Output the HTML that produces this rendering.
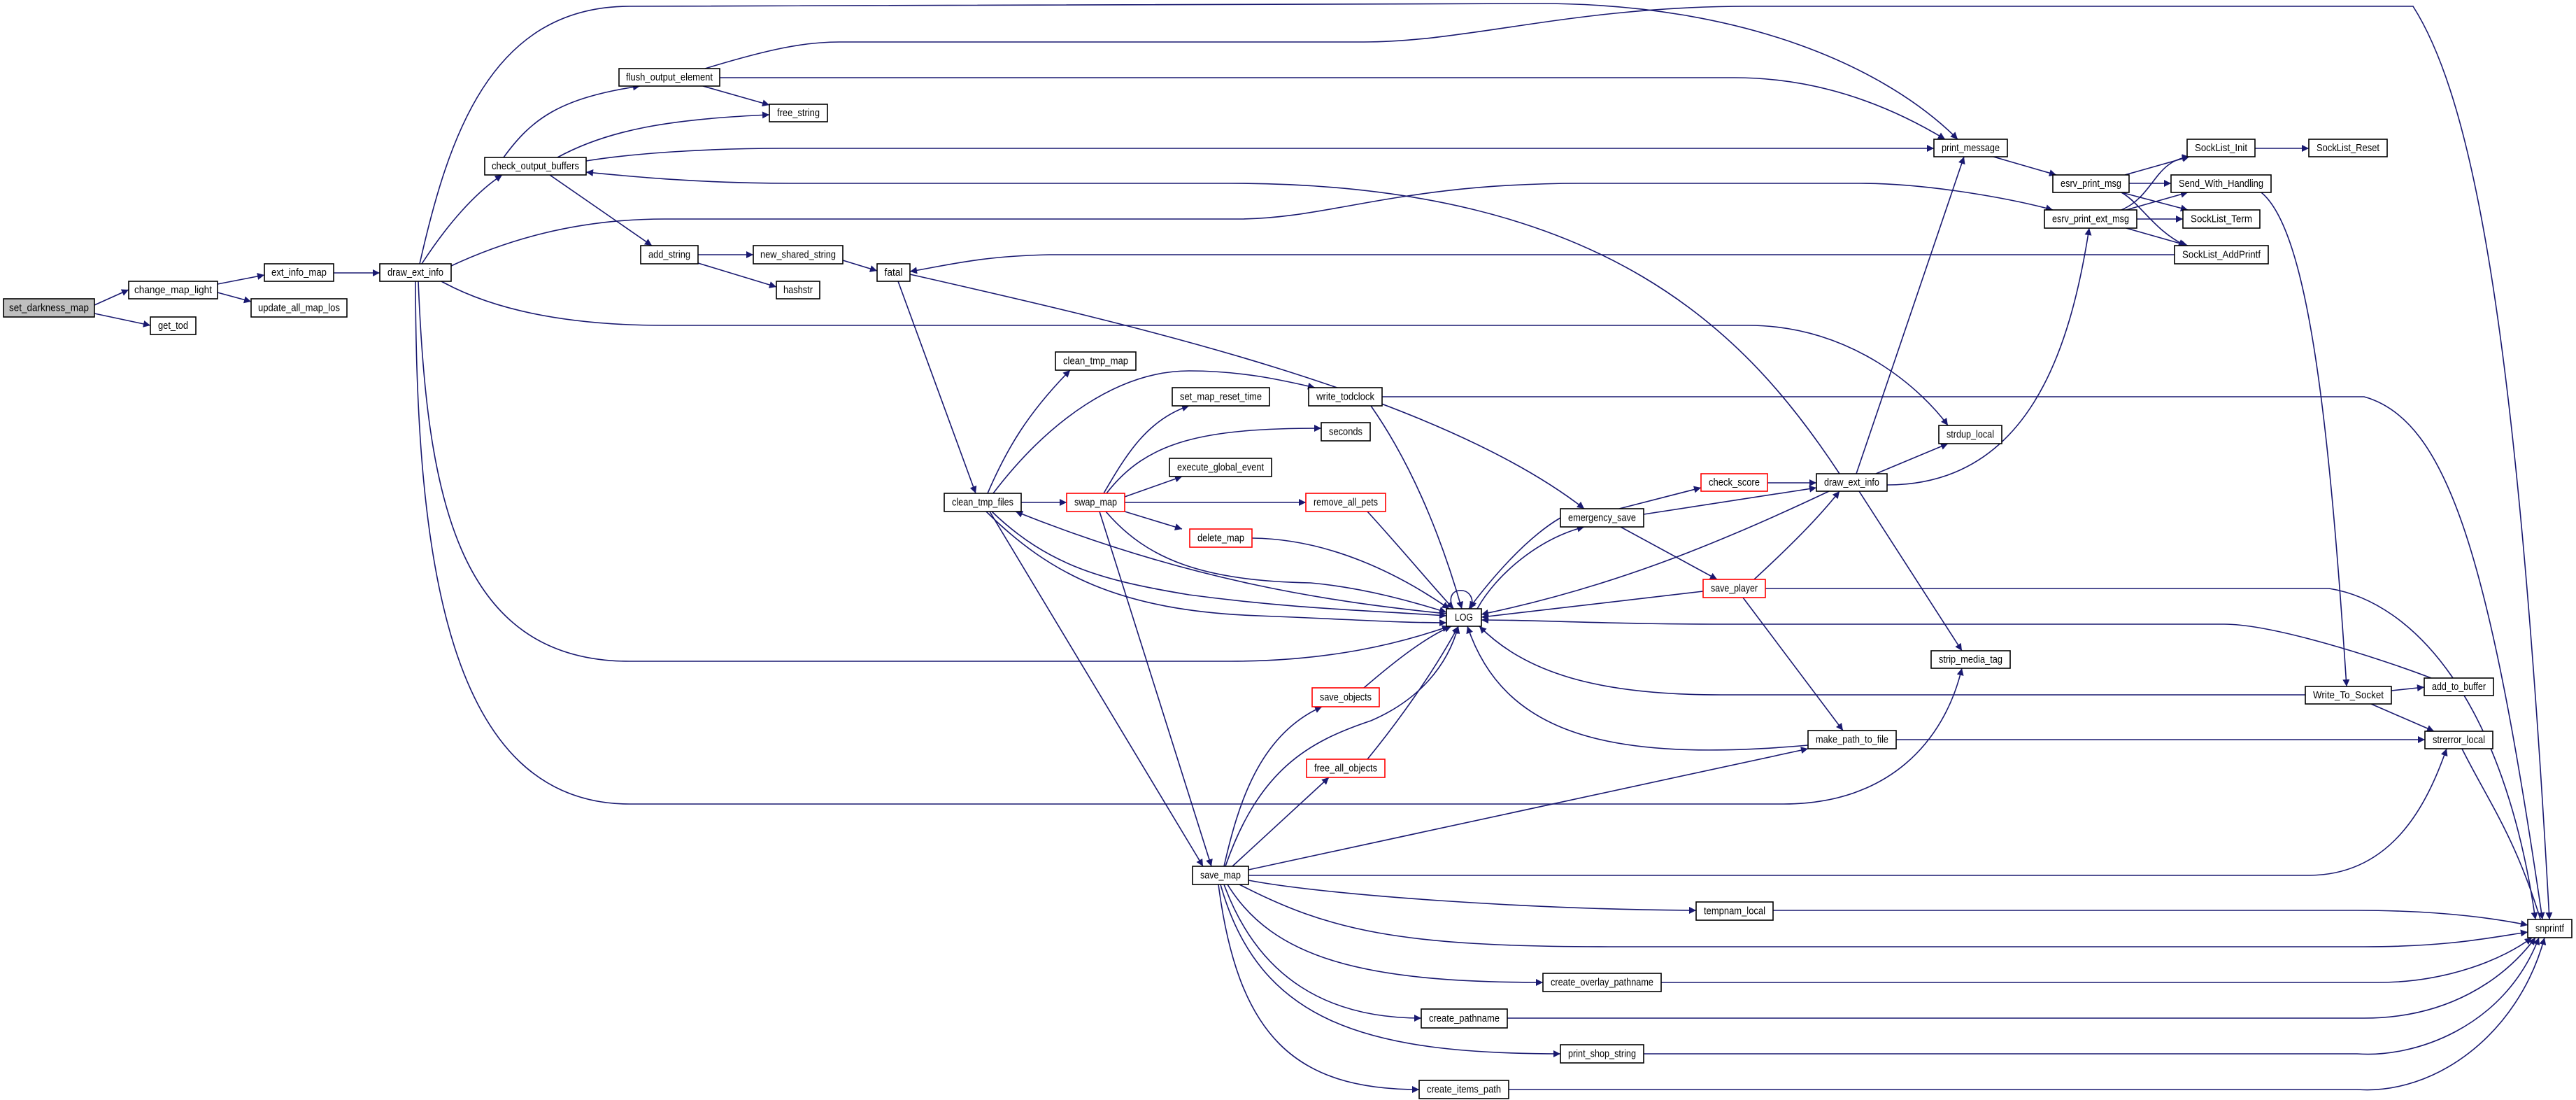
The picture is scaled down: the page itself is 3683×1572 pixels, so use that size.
<!DOCTYPE html>
<html><head><meta charset="utf-8"><style>
html,body{margin:0;padding:0;background:#fff;}
svg{display:block;}
.e{fill:none;stroke:#191970;stroke-width:1.6;marker-end:url(#ar);}
.n rect{fill:#fff;stroke:#000;stroke-width:1.6;}
.n.r rect{stroke:#ff0000;}
.n.g rect{fill:#bfbfbf;}
text{font-family:"Liberation Sans",sans-serif;font-size:15px;fill:#000;text-anchor:middle;dominant-baseline:central;}
</style></head><body>
<svg width="3683" height="1572" viewBox="0 0 3683 1572" xmlns="http://www.w3.org/2000/svg">
<defs><marker id="ar" viewBox="0 0 10 10" refX="10" refY="5" markerWidth="13" markerHeight="10" markerUnits="userSpaceOnUse" orient="auto"><path d="M0,0L10,5L0,10z" fill="#191970"/></marker></defs>
<g>
<path class="e" d="M135,436 L184,414"/>
<path class="e" d="M135,448 L215,465"/>
<path class="e" d="M311,406 L378,393"/>
<path class="e" d="M311,418 L359,431"/>
<path class="e" d="M477,390 L543,390"/>
<path class="e" d="M603,377 C640,320 680,275 718,250"/>
<path class="e" d="M600,377 C640,200 700,9 900,9 L2200,5 C2500,5 2700,100 2799,199"/>
<path class="e" d="M645,380 C720,345 820,313 950,313 L1770,313 C1900,313 2000,262 2260,262 L2660,262 C2760,262 2880,285 2935,300"/>
<path class="e" d="M2630,677 C2500,480 2300,262 1760,262 L1130,262 C1000,262 900,252 838,246"/>
<path class="e" d="M720,225 C760,170 800,140 915,123"/>
<path class="e" d="M797,225 C870,185 960,170 1100,164"/>
<path class="e" d="M838,230 C900,220 1000,212 1120,212 L2765,212"/>
<path class="e" d="M786,250 L932,351"/>
<path class="e" d="M1005,123 L1100,150"/>
<path class="e" d="M1029,111 L2480,111 C2600,111 2700,150 2781,199"/>
<path class="e" d="M1008,98 C1100,70 1150,60 1200,60 L1950,60 C2100,60 2250,9 2500,9 L3450,9 C3540,150 3600,500 3645,1314"/>
<path class="e" d="M598,402 C610,700 650,945 900,945 L1760,945 C1900,945 2000,920 2072,895"/>
<path class="e" d="M594,402 C595,800 640,1149 900,1149 L2550,1149 C2700,1149 2780,1060 2805,955"/>
<path class="e" d="M631,402 C700,440 800,465 950,465 L2500,465 C2650,465 2750,560 2785,608"/>
<path class="e" d="M998,364 L1077,364"/>
<path class="e" d="M998,376 L1110,410"/>
<path class="e" d="M1205,372 L1254,387"/>
<path class="e" d="M3109,364 L1500,364 C1400,366 1350,380 1301,388"/>
<path class="e" d="M1284,402 L1395,705"/>
<path class="e" d="M1301,392 C1600,460 2050,560 2265,727"/>
<path class="e" d="M2850,224 L2940,250"/>
<path class="e" d="M3038,250 L3130,224"/>
<path class="e" d="M3044,262 L3104,262"/>
<path class="e" d="M3033,275 L3128,300"/>
<path class="e" d="M3033,275 C3060,290 3080,330 3125,351"/>
<path class="e" d="M3033,300 C3080,280 3080,230 3130,224"/>
<path class="e" d="M3040,300 L3128,275"/>
<path class="e" d="M3055,313 L3121,313"/>
<path class="e" d="M3040,326 L3128,351"/>
<path class="e" d="M3224,212 L3301,212"/>
<path class="e" d="M3233,275 C3300,330 3330,600 3355,981"/>
<path class="e" d="M3419,987 L3466,982"/>
<path class="e" d="M3390,1006 L3480,1045"/>
<path class="e" d="M3296,993 L2460,993 C2280,993 2180,960 2115,895"/>
<path class="e" d="M3476,969 C3400,940 3250,892 3180,892 L2450,892 C2300,892 2200,886 2118,886"/>
<path class="e" d="M3520,1070 C3560,1150 3600,1200 3640,1340"/>
<path class="e" d="M1976,567 L3380,567 C3500,600 3560,800 3635,1314"/>
<path class="e" d="M1960,580 C2030,680 2070,800 2090,870"/>
<path class="e" d="M1412,705 C1440,640 1470,590 1530,529"/>
<path class="e" d="M1420,705 C1500,600 1600,530 1700,530 C1780,530 1840,545 1880,554"/>
<path class="e" d="M1460,718 L1525,718"/>
<path class="e" d="M1415,731 L1720,1238"/>
<path class="e" d="M1418,731 C1500,810 1580,830 1700,850 C1850,870 1950,872 2068,880"/>
<path class="e" d="M2068,877 C1900,860 1700,830 1452,731"/>
<path class="e" d="M1410,731 C1500,820 1600,873 1800,880 C1950,886 2000,890 2068,890"/>
<path class="e" d="M1578,705 C1610,650 1640,600 1700,580"/>
<path class="e" d="M1582,705 C1640,630 1720,612 1889,612"/>
<path class="e" d="M1608,710 L1690,681"/>
<path class="e" d="M1608,718 L1867,718"/>
<path class="e" d="M1608,731 L1690,756"/>
<path class="e" d="M1581,731 C1640,800 1720,830 1874,833 C1950,840 2020,860 2068,875"/>
<path class="e" d="M1572,731 L1732,1238"/>
<path class="e" d="M1955,731 C2000,780 2050,840 2078,870"/>
<path class="e" d="M1790,769 C1900,770 2000,820 2072,870"/>
<path class="e" d="M2078,870 C2060,835 2115,835 2103,870"/>
<path class="e" d="M2315,727 L2432,697"/>
<path class="e" d="M2350,735 C2450,720 2550,705 2597,697"/>
<path class="e" d="M2317,753 L2455,828"/>
<path class="e" d="M2231,740 C2180,770 2130,830 2100,870"/>
<path class="e" d="M2112,870 C2140,820 2200,770 2265,753"/>
<path class="e" d="M2527,690 L2597,690"/>
<path class="e" d="M2682,677 L2785,634"/>
<path class="e" d="M2658,702 L2805,930"/>
<path class="e" d="M2615,702 C2450,780 2300,840 2118,878"/>
<path class="e" d="M2654,677 L2808,224"/>
<path class="e" d="M2698,693 C2900,693 2960,500 2987,326"/>
<path class="e" d="M2508,828 C2560,780 2600,740 2630,702"/>
<path class="e" d="M2435,845 L2118,882"/>
<path class="e" d="M2492,854 L2635,1044"/>
<path class="e" d="M2524,841 L3330,841 C3450,860 3580,1000 3625,1314"/>
<path class="e" d="M2585,1065 C2300,1090 2150,1050 2098,895"/>
<path class="e" d="M2711,1057 L3467,1057"/>
<path class="e" d="M1950,983 C2000,940 2040,910 2075,895"/>
<path class="e" d="M1955,1085 C2000,1030 2050,960 2085,895"/>
<path class="e" d="M1750,1238 C1770,1150 1800,1050 1890,1010"/>
<path class="e" d="M1762,1238 L1900,1111"/>
<path class="e" d="M1752,1238 C1800,1100 1870,1060 1960,1030 C2030,1000 2070,950 2085,895"/>
<path class="e" d="M1785,1243 L2585,1070"/>
<path class="e" d="M1785,1251 L3300,1251 C3420,1251 3470,1150 3498,1070"/>
<path class="e" d="M1785,1258 C1900,1280 2200,1300 2425,1301"/>
<path class="e" d="M1772,1264 C1900,1330 2000,1353 2300,1353 L3380,1353 C3500,1353 3560,1340 3614,1332"/>
<path class="e" d="M1755,1264 C1820,1370 1950,1404 2206,1404"/>
<path class="e" d="M1750,1264 C1800,1400 1900,1455 2032,1455"/>
<path class="e" d="M1745,1264 C1800,1460 1950,1506 2231,1506"/>
<path class="e" d="M1742,1264 C1770,1480 1850,1557 2029,1557"/>
<path class="e" d="M2535,1301 L3370,1301 C3500,1301 3580,1315 3614,1322"/>
<path class="e" d="M2375,1404 L3400,1404 C3500,1404 3580,1370 3620,1340"/>
<path class="e" d="M2155,1455 L3380,1455 C3500,1455 3580,1400 3625,1340"/>
<path class="e" d="M2350,1506 L3370,1506 C3450,1512 3580,1470 3630,1340"/>
<path class="e" d="M2157,1557 L3370,1557 C3480,1565 3600,1480 3638,1340"/>
</g>
<g class="n g"><rect x="5" y="427" width="130" height="26"/><text x="70" y="440" textLength="114" lengthAdjust="spacingAndGlyphs">set_darkness_map</text></g>
<g class="n"><rect x="184" y="402" width="127" height="25"/><text x="247.5" y="414.5" textLength="111" lengthAdjust="spacingAndGlyphs">change_map_light</text></g>
<g class="n"><rect x="215" y="453" width="65" height="25"/><text x="247.5" y="465.5" textLength="43" lengthAdjust="spacingAndGlyphs">get_tod</text></g>
<g class="n"><rect x="378" y="377" width="99" height="25"/><text x="427.5" y="389.5" textLength="79" lengthAdjust="spacingAndGlyphs">ext_info_map</text></g>
<g class="n"><rect x="359" y="427" width="137" height="26"/><text x="427.5" y="440" textLength="117" lengthAdjust="spacingAndGlyphs">update_all_map_los</text></g>
<g class="n"><rect x="543" y="377" width="102" height="25"/><text x="594" y="389.5" textLength="80" lengthAdjust="spacingAndGlyphs">draw_ext_info</text></g>
<g class="n"><rect x="693" y="225" width="145" height="25"/><text x="765.5" y="237.5" textLength="125" lengthAdjust="spacingAndGlyphs">check_output_buffers</text></g>
<g class="n"><rect x="885" y="98" width="144" height="25"/><text x="957" y="110.5" textLength="124" lengthAdjust="spacingAndGlyphs">flush_output_element</text></g>
<g class="n"><rect x="1100" y="149" width="83" height="25"/><text x="1141.5" y="161.5" textLength="61" lengthAdjust="spacingAndGlyphs">free_string</text></g>
<g class="n"><rect x="916" y="351" width="82" height="26"/><text x="957" y="364" textLength="60" lengthAdjust="spacingAndGlyphs">add_string</text></g>
<g class="n"><rect x="1077" y="351" width="128" height="26"/><text x="1141" y="364" textLength="108" lengthAdjust="spacingAndGlyphs">new_shared_string</text></g>
<g class="n"><rect x="1110" y="402" width="62" height="25"/><text x="1141" y="414.5" textLength="42" lengthAdjust="spacingAndGlyphs">hashstr</text></g>
<g class="n"><rect x="1254" y="377" width="47" height="25"/><text x="1277.5" y="389.5" textLength="26" lengthAdjust="spacingAndGlyphs">fatal</text></g>
<g class="n"><rect x="2765" y="199" width="105" height="25"/><text x="2817.5" y="211.5" textLength="83" lengthAdjust="spacingAndGlyphs">print_message</text></g>
<g class="n"><rect x="2935" y="250" width="109" height="25"/><text x="2989.5" y="262.5" textLength="87" lengthAdjust="spacingAndGlyphs">esrv_print_msg</text></g>
<g class="n"><rect x="2923" y="300" width="132" height="26"/><text x="2989" y="313" textLength="110" lengthAdjust="spacingAndGlyphs">esrv_print_ext_msg</text></g>
<g class="n"><rect x="3127" y="199" width="97" height="25"/><text x="3175.5" y="211.5" textLength="75" lengthAdjust="spacingAndGlyphs">SockList_Init</text></g>
<g class="n"><rect x="3301" y="199" width="112" height="25"/><text x="3357" y="211.5" textLength="90" lengthAdjust="spacingAndGlyphs">SockList_Reset</text></g>
<g class="n"><rect x="3104" y="250" width="143" height="25"/><text x="3175.5" y="262.5" textLength="121" lengthAdjust="spacingAndGlyphs">Send_With_Handling</text></g>
<g class="n"><rect x="3121" y="300" width="110" height="26"/><text x="3176" y="313" textLength="88" lengthAdjust="spacingAndGlyphs">SockList_Term</text></g>
<g class="n"><rect x="3109" y="351" width="134" height="26"/><text x="3176" y="364" textLength="112" lengthAdjust="spacingAndGlyphs">SockList_AddPrintf</text></g>
<g class="n"><rect x="1509" y="503" width="115" height="26"/><text x="1566.5" y="516" textLength="93" lengthAdjust="spacingAndGlyphs">clean_tmp_map</text></g>
<g class="n"><rect x="1871" y="554" width="105" height="26"/><text x="1923.5" y="567" textLength="83" lengthAdjust="spacingAndGlyphs">write_todclock</text></g>
<g class="n"><rect x="1676" y="554" width="139" height="26"/><text x="1745.5" y="567" textLength="117" lengthAdjust="spacingAndGlyphs">set_map_reset_time</text></g>
<g class="n"><rect x="1889" y="604" width="70" height="26"/><text x="1924" y="617" textLength="48" lengthAdjust="spacingAndGlyphs">seconds</text></g>
<g class="n"><rect x="1672" y="655" width="146" height="26"/><text x="1745" y="668" textLength="124" lengthAdjust="spacingAndGlyphs">execute_global_event</text></g>
<g class="n"><rect x="1350" y="705" width="110" height="26"/><text x="1405" y="718" textLength="88" lengthAdjust="spacingAndGlyphs">clean_tmp_files</text></g>
<g class="n r"><rect x="1525" y="705" width="83" height="26"/><text x="1566.5" y="718" textLength="61" lengthAdjust="spacingAndGlyphs">swap_map</text></g>
<g class="n r"><rect x="1867" y="705" width="114" height="26"/><text x="1924" y="718" textLength="92" lengthAdjust="spacingAndGlyphs">remove_all_pets</text></g>
<g class="n r"><rect x="1701" y="756" width="89" height="26"/><text x="1745.5" y="769" textLength="67" lengthAdjust="spacingAndGlyphs">delete_map</text></g>
<g class="n"><rect x="2068" y="870" width="50" height="25"/><text x="2093" y="882.5" textLength="26" lengthAdjust="spacingAndGlyphs">LOG</text></g>
<g class="n"><rect x="2772" y="608" width="90" height="26"/><text x="2817" y="621" textLength="68" lengthAdjust="spacingAndGlyphs">strdup_local</text></g>
<g class="n r"><rect x="2432" y="677" width="95" height="25"/><text x="2479.5" y="689.5" textLength="73" lengthAdjust="spacingAndGlyphs">check_score</text></g>
<g class="n"><rect x="2597" y="677" width="101" height="25"/><text x="2647.5" y="689.5" textLength="79" lengthAdjust="spacingAndGlyphs">draw_ext_info</text></g>
<g class="n"><rect x="2231" y="727" width="119" height="26"/><text x="2290.5" y="740" textLength="97" lengthAdjust="spacingAndGlyphs">emergency_save</text></g>
<g class="n r"><rect x="2435" y="828" width="89" height="26"/><text x="2479.5" y="841" textLength="67" lengthAdjust="spacingAndGlyphs">save_player</text></g>
<g class="n"><rect x="2761" y="930" width="113" height="25"/><text x="2817.5" y="942.5" textLength="91" lengthAdjust="spacingAndGlyphs">strip_media_tag</text></g>
<g class="n"><rect x="2585" y="1044" width="126" height="26"/><text x="2648" y="1057" textLength="104" lengthAdjust="spacingAndGlyphs">make_path_to_file</text></g>
<g class="n"><rect x="3296" y="981" width="123" height="25"/><text x="3357.5" y="993.5" textLength="101" lengthAdjust="spacingAndGlyphs">Write_To_Socket</text></g>
<g class="n"><rect x="3466" y="969" width="99" height="25"/><text x="3515.5" y="981.5" textLength="77" lengthAdjust="spacingAndGlyphs">add_to_buffer</text></g>
<g class="n"><rect x="3467" y="1045" width="97" height="25"/><text x="3515.5" y="1057.5" textLength="75" lengthAdjust="spacingAndGlyphs">strerror_local</text></g>
<g class="n r"><rect x="1876" y="983" width="96" height="27"/><text x="1924" y="996.5" textLength="74" lengthAdjust="spacingAndGlyphs">save_objects</text></g>
<g class="n r"><rect x="1868" y="1085" width="112" height="26"/><text x="1924" y="1098" textLength="90" lengthAdjust="spacingAndGlyphs">free_all_objects</text></g>
<g class="n"><rect x="1705" y="1238" width="80" height="26"/><text x="1745" y="1251" textLength="58" lengthAdjust="spacingAndGlyphs">save_map</text></g>
<g class="n"><rect x="2425" y="1289" width="110" height="26"/><text x="2480" y="1302" textLength="88" lengthAdjust="spacingAndGlyphs">tempnam_local</text></g>
<g class="n"><rect x="2206" y="1391" width="169" height="26"/><text x="2290.5" y="1404" textLength="147" lengthAdjust="spacingAndGlyphs">create_overlay_pathname</text></g>
<g class="n"><rect x="2032" y="1442" width="123" height="27"/><text x="2093.5" y="1455.5" textLength="101" lengthAdjust="spacingAndGlyphs">create_pathname</text></g>
<g class="n"><rect x="2231" y="1493" width="119" height="26"/><text x="2290.5" y="1506" textLength="97" lengthAdjust="spacingAndGlyphs">print_shop_string</text></g>
<g class="n"><rect x="2029" y="1544" width="128" height="26"/><text x="2093" y="1557" textLength="106" lengthAdjust="spacingAndGlyphs">create_items_path</text></g>
<g class="n"><rect x="3614" y="1314" width="63" height="26"/><text x="3645.5" y="1327" textLength="41" lengthAdjust="spacingAndGlyphs">snprintf</text></g>
</svg>
</body></html>
